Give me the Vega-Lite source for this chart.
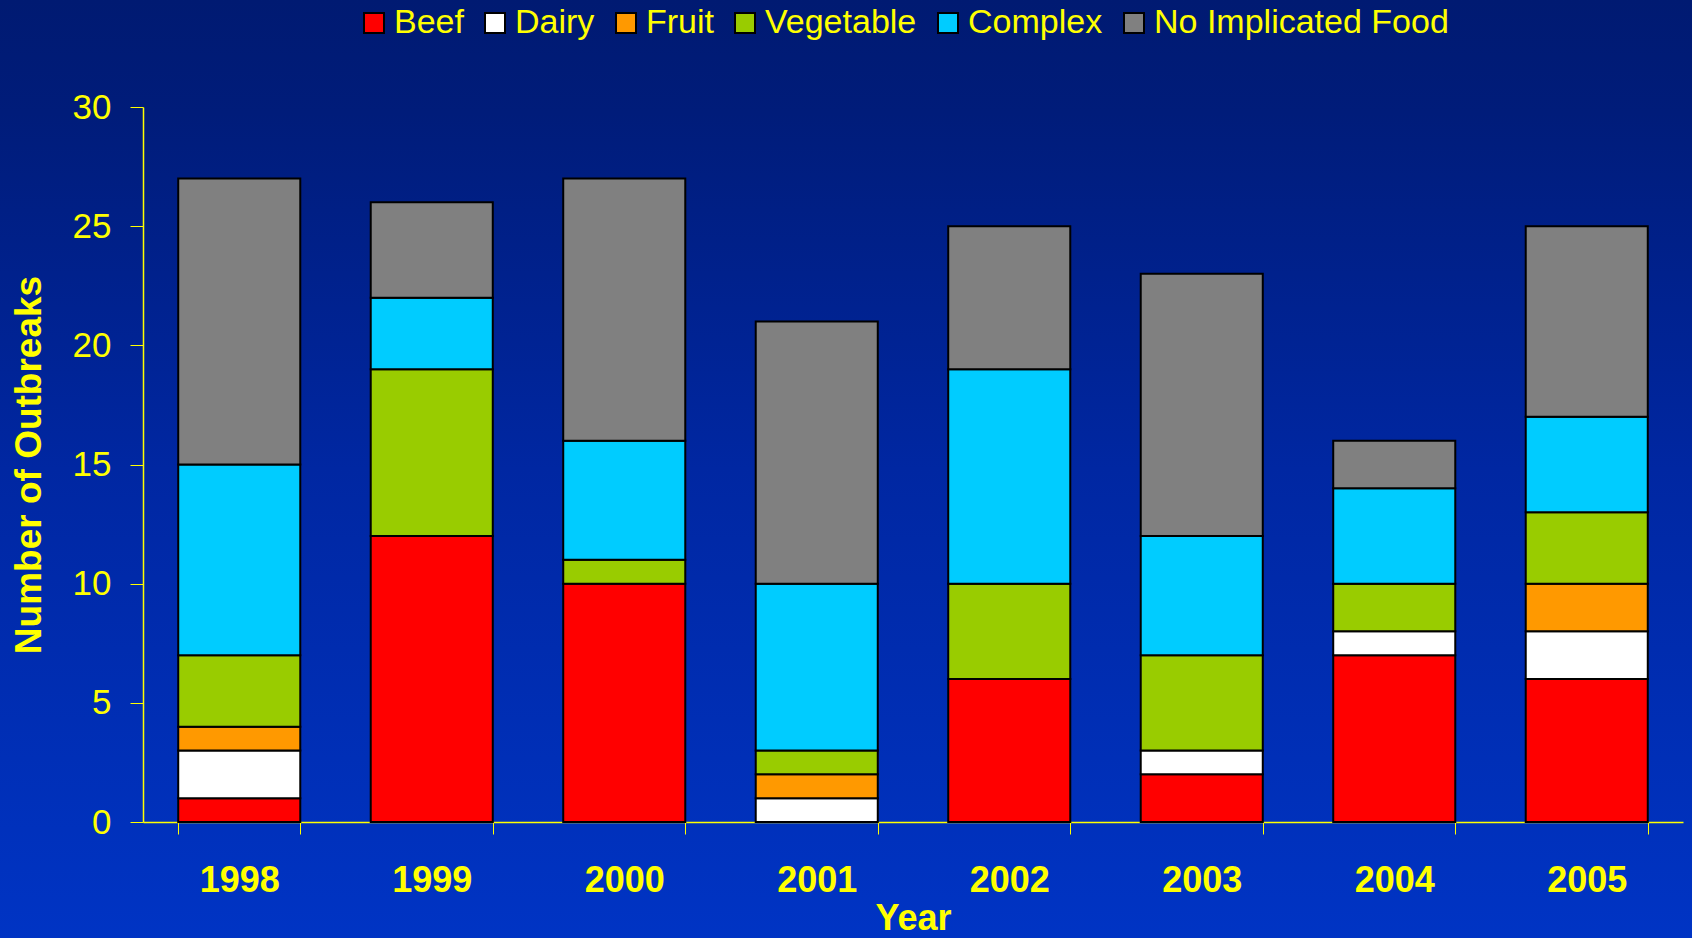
{
  "$schema": "https://vega.github.io/schema/vega-lite/v6.json",
  "autosize": {"type": "none"},
  "width": 1692,
  "height": 938,
  "padding": 0,
  "background": "#00269b",
  "config": {
    "font": "Liberation Sans",
    "view": {"stroke": null, "fill": {"gradient": "linear", "x1": 0, "y1": 0, "x2": 0, "y2": 1, "stops": [{"offset": 0, "color": "#001a72"}, {"offset": 0.12, "color": "#001c7a"}, {"offset": 0.5, "color": "#0027a2"}, {"offset": 1, "color": "#0034c4"}]}}
  },
  "data": {
    "values": [
      {"year": "1998", "category": "Beef", "ord": 1, "count": 1},
      {"year": "1998", "category": "Dairy", "ord": 2, "count": 2},
      {"year": "1998", "category": "Fruit", "ord": 3, "count": 1},
      {"year": "1998", "category": "Vegetable", "ord": 4, "count": 3},
      {"year": "1998", "category": "Complex", "ord": 5, "count": 8},
      {"year": "1998", "category": "No Implicated Food", "ord": 6, "count": 12},
      {"year": "1999", "category": "Beef", "ord": 1, "count": 12},
      {"year": "1999", "category": "Vegetable", "ord": 4, "count": 7},
      {"year": "1999", "category": "Complex", "ord": 5, "count": 3},
      {"year": "1999", "category": "No Implicated Food", "ord": 6, "count": 4},
      {"year": "2000", "category": "Beef", "ord": 1, "count": 10},
      {"year": "2000", "category": "Vegetable", "ord": 4, "count": 1},
      {"year": "2000", "category": "Complex", "ord": 5, "count": 5},
      {"year": "2000", "category": "No Implicated Food", "ord": 6, "count": 11},
      {"year": "2001", "category": "Dairy", "ord": 2, "count": 1},
      {"year": "2001", "category": "Fruit", "ord": 3, "count": 1},
      {"year": "2001", "category": "Vegetable", "ord": 4, "count": 1},
      {"year": "2001", "category": "Complex", "ord": 5, "count": 7},
      {"year": "2001", "category": "No Implicated Food", "ord": 6, "count": 11},
      {"year": "2002", "category": "Beef", "ord": 1, "count": 6},
      {"year": "2002", "category": "Vegetable", "ord": 4, "count": 4},
      {"year": "2002", "category": "Complex", "ord": 5, "count": 9},
      {"year": "2002", "category": "No Implicated Food", "ord": 6, "count": 6},
      {"year": "2003", "category": "Beef", "ord": 1, "count": 2},
      {"year": "2003", "category": "Dairy", "ord": 2, "count": 1},
      {"year": "2003", "category": "Vegetable", "ord": 4, "count": 4},
      {"year": "2003", "category": "Complex", "ord": 5, "count": 5},
      {"year": "2003", "category": "No Implicated Food", "ord": 6, "count": 11},
      {"year": "2004", "category": "Beef", "ord": 1, "count": 7},
      {"year": "2004", "category": "Dairy", "ord": 2, "count": 1},
      {"year": "2004", "category": "Vegetable", "ord": 4, "count": 2},
      {"year": "2004", "category": "Complex", "ord": 5, "count": 4},
      {"year": "2004", "category": "No Implicated Food", "ord": 6, "count": 2},
      {"year": "2005", "category": "Beef", "ord": 1, "count": 6},
      {"year": "2005", "category": "Dairy", "ord": 2, "count": 2},
      {"year": "2005", "category": "Fruit", "ord": 3, "count": 2},
      {"year": "2005", "category": "Vegetable", "ord": 4, "count": 3},
      {"year": "2005", "category": "Complex", "ord": 5, "count": 4},
      {"year": "2005", "category": "No Implicated Food", "ord": 6, "count": 8}
    ]
  },
  "mark": {"type": "bar", "stroke": "black", "strokeWidth": 2},
  "encoding": {
    "x": {
      "field": "year", "type": "ordinal",
      "scale": {"paddingInner": 0.366, "paddingOuter": 0.183, "range": [143, 1683]},
      "axis": {
        "title": "Year", "labelAngle": 0, "offset": -116,
        "domainColor": "#ffff00", "domainWidth": 1.5,
        "tickColor": "#ffff00", "tickSize": 12, "tickBand": "extent",
        "labelColor": "#ffff00", "labelFontSize": 36, "labelFontWeight": "bold", "labelPadding": 29,
        "titleColor": "#ffff00", "titleFontSize": 36, "titleFontWeight": "bold", "titlePadding": 3
      }
    },
    "y": {
      "field": "count", "type": "quantitative", "stack": "zero",
      "scale": {"domain": [0, 30], "nice": false, "range": [822, 107]},
      "axis": {
        "title": "Number of Outbreaks", "values": [0, 5, 10, 15, 20, 25, 30], "grid": false, "offset": -143,
        "domainColor": "#ffff00", "domainWidth": 1.5,
        "tickColor": "#ffff00", "tickSize": 13,
        "labelColor": "#ffff00", "labelFontSize": 35, "labelPadding": 19,
        "titleColor": "#ffff00", "titleFontSize": 37, "titleFontWeight": "bold", "titlePadding": 24
      }
    },
    "color": {
      "field": "category", "type": "nominal",
      "scale": {
        "domain": ["Beef", "Dairy", "Fruit", "Vegetable", "Complex", "No Implicated Food"],
        "range": ["#ff0000", "#ffffff", "#ff9900", "#99cc00", "#00ccff", "#808080"]
      },
      "legend": {
        "title": null, "orient": "none", "direction": "horizontal",
        "legendX": 357, "legendY": 6, "padding": 0,
        "symbolType": "square", "symbolSize": 400, "symbolStrokeColor": "black", "symbolStrokeWidth": 2,
        "labelColor": "#ffff00", "labelFontSize": 34, "labelOffset": 3, "columnPadding": 14,
        "labelLimit": 500
      }
    },
    "order": {"field": "ord", "type": "quantitative"}
  }
}
